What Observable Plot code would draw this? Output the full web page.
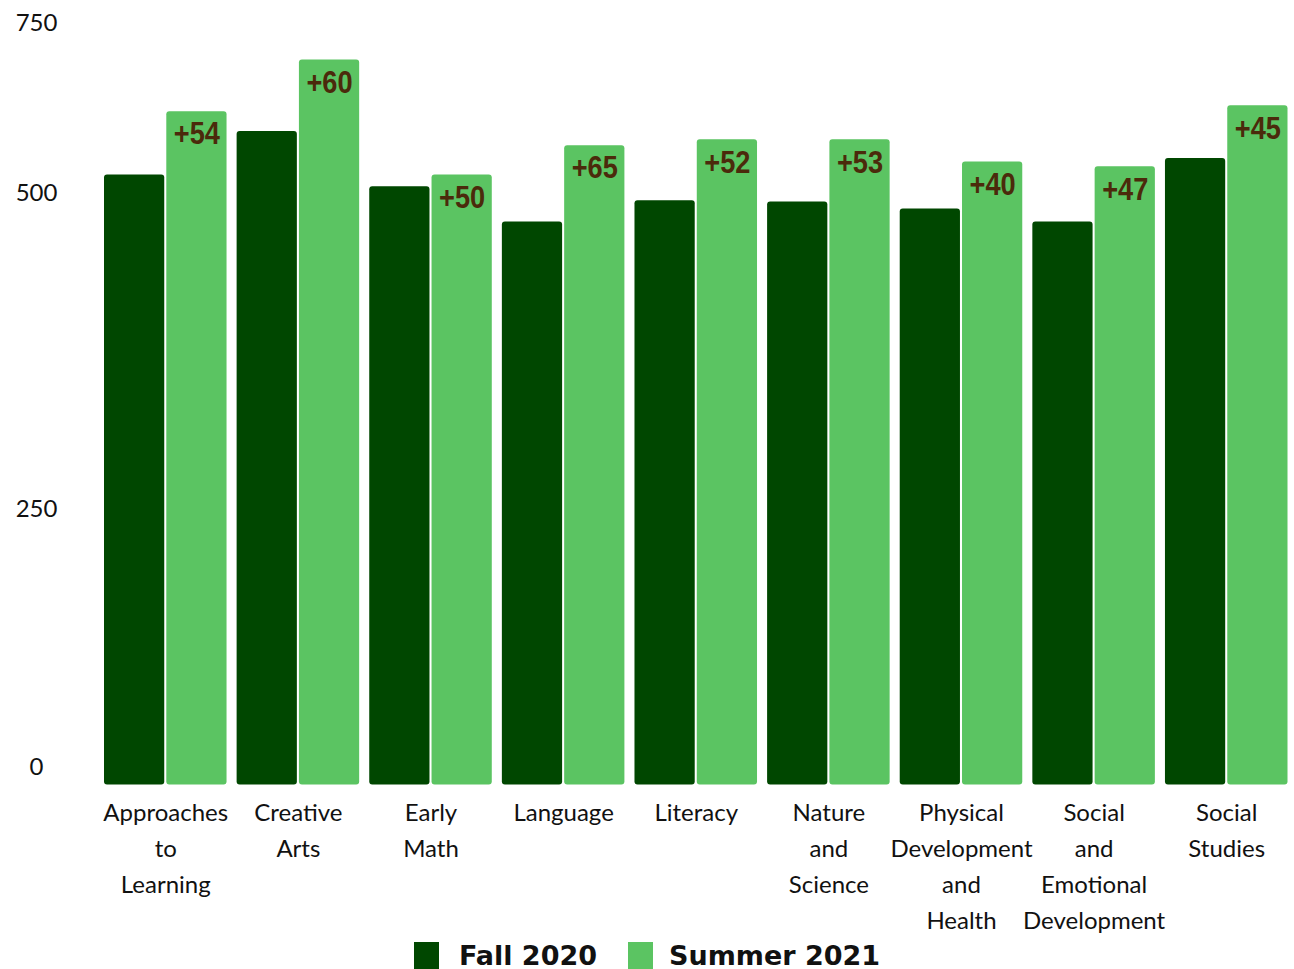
<!DOCTYPE html>
<html>
<head>
<meta charset="utf-8">
<script src="https://cdn.jsdelivr.net/npm/d3@7"></script>
<script src="https://cdn.jsdelivr.net/npm/@observablehq/plot@0.6"></script>
<style>
  html, body { margin: 0; padding: 0; background: #fff; }
  #chart svg { display: block; }
  .legend { display: flex; justify-content: center; align-items: center; height: 30px; margin-top: 0;
            font-family: "DejaVu Sans", sans-serif; font-weight: bold; font-size: 27px; color: #111; }
  .legend .sw { width: 25px; height: 27px; display: inline-block; }
  .legend .item { display: flex; align-items: center; }
</style>
</head>
<body>
<div id="chart"></div>
<script>
const categories = ["Approaches to Learning", "Creative Arts", "Early Math", "Language", "Literacy",
  "Nature and Science", "Physical Development and Health", "Social and Emotional Development", "Social Studies"];
const categoryLabels = ["Approaches\nto\nLearning", "Creative\nArts", "Early\nMath", "Language", "Literacy",
  "Nature\nand\nScience", "Physical\nDevelopment\nand\nHealth", "Social\nand\nEmotional\nDevelopment", "Social\nStudies"];
const series = ["Fall 2020", "Summer 2021"];
const fall2020 = [520, 557, 510, 480, 498, 497, 491, 480, 534];
const summer2021 = [574, 618, 520, 545, 550, 550, 531, 527, 579];
const gainLabels = ["+54", "+60", "+50", "+65", "+52", "+53", "+40", "+47", "+45"];
const tickLabels = ["0", "250", "500", "750"];
const tickAt = [15, 235, 504, 649];
const colors = ["#004700", "#5BC462"];

const rows = [];
categories.forEach((c, i) => {
  rows.push({category: c, series: series[0], value: fall2020[i], label: null});
  rows.push({category: c, series: series[1], value: summer2021[i], label: gainLabels[i]});
});
const labelOf = new Map(categories.map((c, i) => [c, categoryLabels[i]]));
const tickText = new Map(tickAt.map((v, i) => [v, tickLabels[i]]));

const chart = Plot.plot({
  width: 1294,
  height: 940,
  marginLeft: 104,
  marginRight: 6.5,
  marginTop: 22,
  marginBottom: 155.5,
  style: {background: "#fff"},
  fx: {domain: categories, paddingInner: 0.076, paddingOuter: 0, round: false, axis: null, label: null},
  x: {domain: series, paddingInner: 0.033, paddingOuter: 0, round: false, axis: null},
  y: {domain: [0, 650], axis: null},
  color: {domain: series, range: colors},
  marks: [
    Plot.barY(rows, {fx: "category", x: "series", y: "value", fill: "series", rx: 3}),
    Plot.text(rows.filter(d => d.label), {
      fx: "category", x: "series", y: "value", text: "label",
      lineAnchor: "top", dy: 10, fill: "#4B2A0B", fontSize: 32, fontWeight: "bold",
      fontFamily: "Liberation Sans, Arial, sans-serif", className: "gain"
    }),
    Plot.axisFx({
      anchor: "bottom", tickSize: 0, tickPadding: 10, label: null,
      tickFormat: d => labelOf.get(d), lineHeight: 1.5,
      fontSize: 24, fontFamily: "Lato, sans-serif", fill: "#111"
    }),
    Plot.axisY({
      ticks: tickAt, tickFormat: d => tickText.get(d), tickSize: 0, tickPadding: 68,
      textAnchor: "middle", label: null, fontSize: 24, fontFamily: "Lato, sans-serif", fill: "#111"
    })
  ]
});
document.getElementById("chart").appendChild(chart);
// condense the gain labels horizontally (the reference uses a narrow bold face)
d3.select(chart).selectAll("g.gain text").each(function() {
  const t = this.getAttribute("transform") || "";
  this.setAttribute("transform", t + " scale(0.85,1)");
});

const legend = document.createElement("div");
legend.className = "legend";
series.forEach((s, i) => {
  const item = document.createElement("div");
  item.className = "item";
  item.style.marginRight = i === 0 ? "31px" : "0";
  const sw = document.createElement("span");
  sw.className = "sw";
  sw.style.background = colors[i];
  sw.style.marginRight = i === 0 ? "20px" : "16px";
  const t = document.createElement("span");
  t.textContent = s;
  item.appendChild(sw);
  item.appendChild(t);
  legend.appendChild(item);
});
document.body.appendChild(legend);
</script>
</body>
</html>
